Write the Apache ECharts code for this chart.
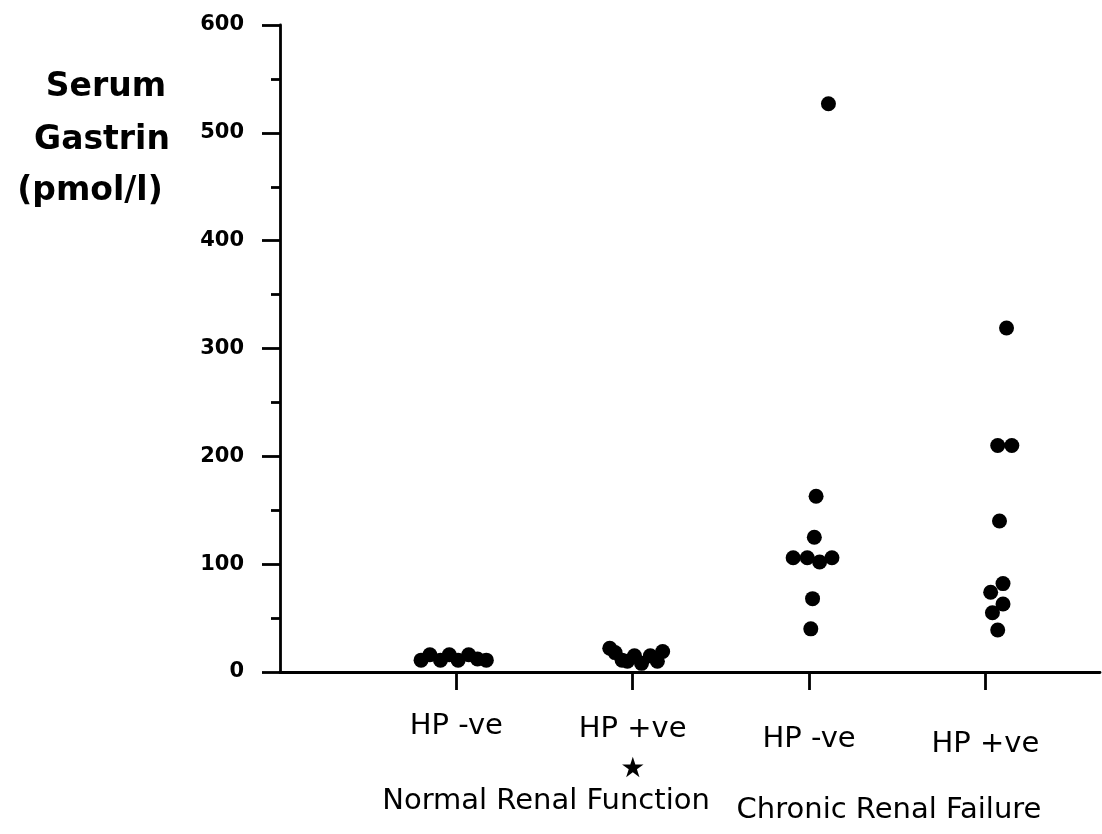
<!DOCTYPE html>
<html>
<head>
<meta charset="utf-8">
<script src="https://cdn.jsdelivr.net/npm/echarts@6/dist/echarts.min.js"></script>
<style>
html,body{margin:0;padding:0;background:#fff;}
#chart{width:1102px;height:834px;}
</style>
</head>
<body>
<div id="chart"></div>
<script>
// ---- data ----
const categories = ['HP -ve', 'HP +ve', 'HP -ve', 'HP +ve'];
const groupLabels = ['Normal Renal Function', 'Chronic Renal Failure'];
const yTicks = [0, 100, 200, 300, 400, 500, 600];
const titleLines = ['Serum', 'Gastrin', '(pmol/l)'];

// values (pmol/l) and horizontal jitter (in category units) for each group
const nrfNegValues  = [11, 16, 11, 16, 11, 16, 12, 11];
const nrfNegOffsets = [-0.20, -0.15, -0.09, -0.04, 0.01, 0.07, 0.12, 0.17];

const nrfPosValues  = [22, 18, 11, 10, 15, 8, 15, 10, 19];
const nrfPosOffsets = [-0.13, -0.10, -0.06, -0.03, 0.01, 0.05, 0.10, 0.14, 0.17];

const crfNegValues  = [527, 163, 125, 106, 106, 102, 106, 68, 40];
const crfNegOffsets = [0.11, 0.04, 0.03, -0.09, -0.01, 0.06, 0.13, 0.02, 0.01];

const crfPosValues  = [319, 210, 210, 140, 82, 74, 63, 55, 39];
const crfPosOffsets = [0.12, 0.07, 0.15, 0.08, 0.10, 0.03, 0.10, 0.04, 0.07];

const groups = [
  { center: 1, values: nrfNegValues, offsets: nrfNegOffsets },
  { center: 2, values: nrfPosValues, offsets: nrfPosOffsets },
  { center: 3, values: crfNegValues, offsets: crfNegOffsets },
  { center: 4, values: crfPosValues, offsets: crfPosOffsets }
];

const points = [];
groups.forEach(g => g.values.forEach((v, i) => points.push([g.center + g.offsets[i], v])));

const chart = echarts.init(document.getElementById('chart'), null, { renderer: 'canvas' });

const baseLbl = { fontFamily: 'DejaVu Sans', fontSize: 29, color: '#000', lineHeight: 32 };
const labelRich = {
  c0: Object.assign({}, baseLbl, { padding: [0, 0, 0, 0] }),
  c1: Object.assign({}, baseLbl, { padding: [6, 0, 0, 0] }),
  c2: Object.assign({}, baseLbl, { padding: [26, 0, 0, 0] }),
  c3: Object.assign({}, baseLbl, { padding: [36, 0, 0, 0] }),
  st: { fontFamily: 'DejaVu Sans', fontSize: 28, color: '#000', lineHeight: 56 }
};

const option = {
  backgroundColor: '#fff',
  animation: false,
  grid: { left: 280, right: 2, top: 25, bottom: 162, containLabel: false },
  xAxis: {
    type: 'value',
    min: 0,
    max: 4.65,
    splitLine: { show: false },
    axisLine: { show: true, onZero: true, lineStyle: { color: '#000', width: 2.8 } },
    axisTick: { show: true, customValues: [1, 2, 3, 4], length: 18, lineStyle: { color: '#000', width: 2.8 } },
    axisLabel: {
      show: true,
      customValues: [1, 2, 3, 4],
      margin: 38,
      formatter: function (v) {
        const idx = Math.round(v) - 1;
        const name = categories[idx];
        if (idx === 1) return '{c1|' + name + '}\n{st|★}';
        return '{c' + idx + '|' + name + '}';
      },
      rich: labelRich
    }
  },
  yAxis: {
    type: 'value',
    min: yTicks[0],
    max: yTicks[yTicks.length - 1],
    interval: 100,
    splitLine: { show: false },
    axisLine: { show: true, onZero: true, lineStyle: { color: '#000', width: 2.8 } },
    axisTick: { show: true, length: 18, lineStyle: { color: '#000', width: 2.8 } },
    minorTick: { show: true, splitNumber: 2, length: 9, lineStyle: { color: '#000', width: 2.8 } },
    axisLabel: {
      margin: 36,
      color: '#000',
      fontFamily: 'DejaVu Sans',
      fontWeight: 'bold',
      fontSize: 21
    }
  },
  graphic: [
    { type: 'text', x: 106, y: 87, style: { text: titleLines[0], fill: '#000', font: 'bold 33px "DejaVu Sans"', textAlign: 'center', textVerticalAlign: 'middle' } },
    { type: 'text', x: 102, y: 140, style: { text: titleLines[1], fill: '#000', font: 'bold 33px "DejaVu Sans"', textAlign: 'center', textVerticalAlign: 'middle' } },
    { type: 'text', x: 90, y: 191, style: { text: titleLines[2], fill: '#000', font: 'bold 33px "DejaVu Sans"', textAlign: 'center', textVerticalAlign: 'middle' } },
    { type: 'text', x: 546, y: 801, style: { text: groupLabels[0], fill: '#000', font: '29px "DejaVu Sans"', textAlign: 'center', textVerticalAlign: 'middle' } },
    { type: 'text', x: 889, y: 810, style: { text: groupLabels[1], fill: '#000', font: '29px "DejaVu Sans"', textAlign: 'center', textVerticalAlign: 'middle' } }
  ],
  series: [{
    type: 'scatter',
    data: points,
    symbol: 'circle',
    symbolSize: 15,
    itemStyle: { color: '#000', opacity: 1 },
    silent: true
  }]
};

chart.setOption(option);
</script>
</body>
</html>
